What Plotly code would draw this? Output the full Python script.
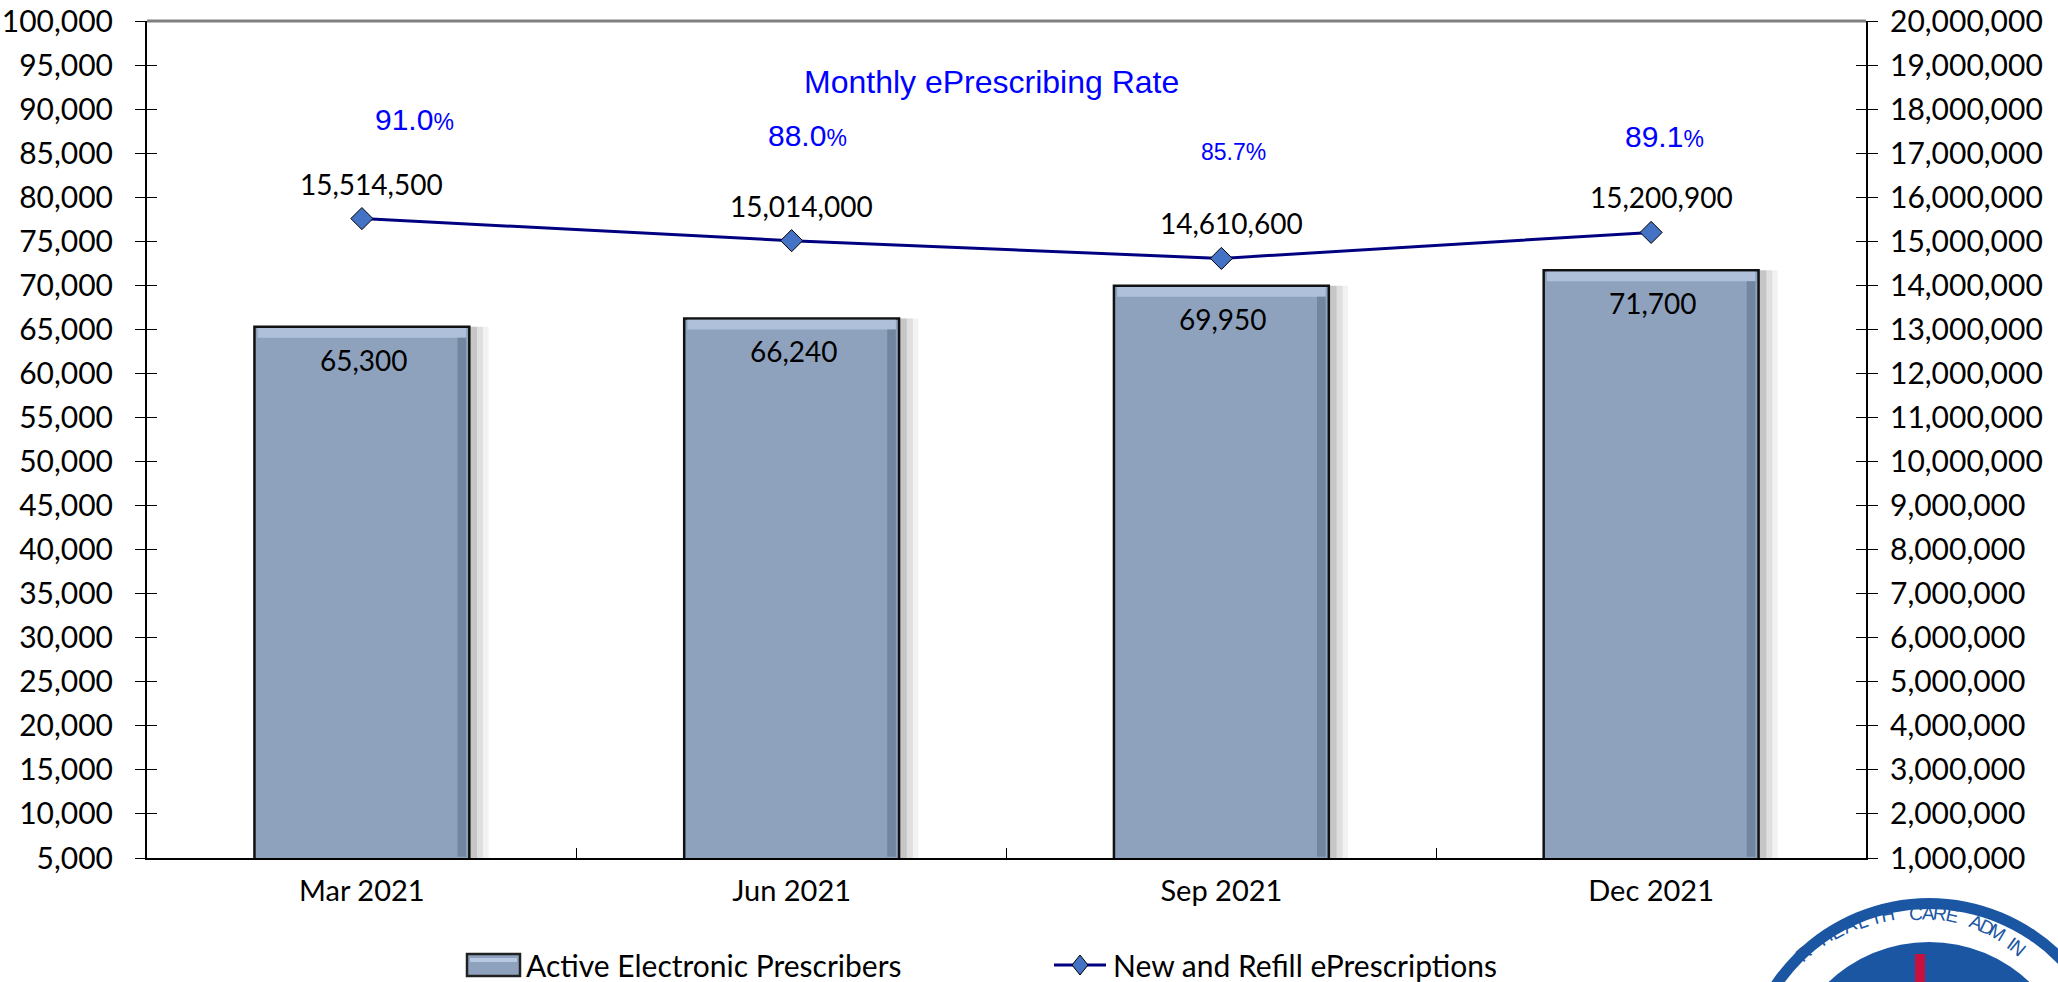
import math
import plotly.graph_objects as go

categories = ["Mar 2021", "Jun 2021", "Sep 2021", "Dec 2021"]
prescribers = [65300, 66240, 69950, 71700]
erx = [15514500, 15014000, 14610600, 15200900]
rate_main = ["91.0", "88.0", "85.7", "89.1"]
rate_small = [False, False, True, False]
rate_level = [17770000, 17410000, 17020000, 17380000]
left_ticks = list(range(5000, 100001, 5000))
right_ticks = list(range(1000000, 20000001, 1000000))
series_names = ["Active Electronic Prescribers", "New and Refill ePrescriptions"]
logo_text = "FOR HEALTH CARE ADMINISTRATION"

FONT = "Lato"
AFONT = "Liberation Sans"
W, H = 2058, 982
L, R, T, B = 147, 192, 21, 124
PW, PH = W - L - R, H - T - B

def px2paper(px, py):
    return (px - L) / PW, (H - B - py) / PH

fig = go.Figure()

# soft shadow behind bars
for off, alpha in [(-0.205, 0.05), (-0.218, 0.08), (-0.232, 0.11)]:
    fig.add_trace(go.Bar(
        x=categories, y=prescribers, showlegend=False, hoverinfo="skip",
        marker=dict(color=f"rgba(0,0,0,{alpha})", line=dict(width=0)),
        width=0.5, offset=off, yaxis="y",
    ))
fig.add_trace(go.Bar(
    x=categories, y=prescribers, name=series_names[0], showlegend=False,
    marker=dict(color="#8EA2BE", line=dict(color="#111111", width=2.5)),
    width=0.5, offset=-0.25, yaxis="y",
))
# bevel highlights (top light band, right dark band)
fig.add_trace(go.Bar(
    x=categories, y=[1100] * len(prescribers), base=[v - 1250 for v in prescribers],
    showlegend=False, hoverinfo="skip",
    marker=dict(color="#AEC0DA", line=dict(width=0)), width=0.485, offset=-0.2425, yaxis="y",
))
fig.add_trace(go.Bar(
    x=categories, y=[v - 5000 - 1400 for v in prescribers], base=[5150] * len(prescribers),
    showlegend=False, hoverinfo="skip",
    marker=dict(color="#72879F", line=dict(width=0)), width=0.02, offset=0.2225, yaxis="y",
))
fig.add_trace(go.Scatter(
    x=categories, y=erx, name=series_names[1], yaxis="y2", showlegend=False,
    mode="lines+markers",
    line=dict(color="#000080", width=3),
    marker=dict(symbol="diamond", size=17, color="#4472C4", line=dict(color="#000000", width=1)),
))
# dummy traces for inner-tick overlay axes
fig.add_trace(go.Scatter(x=[categories[0]], y=[None], yaxis="y3", showlegend=False, hoverinfo="skip"))
fig.add_trace(go.Scatter(x=[categories[0]], y=[None], yaxis="y4", showlegend=False, hoverinfo="skip"))

annos = []
# bar value labels
for c, v in zip(categories, prescribers):
    annos.append(dict(x=c, y=v, xref="x", yref="y", text=f"{v:,}", showarrow=False,
                      yshift=-33, xshift=2, font=dict(family=FONT, size=28, color="#000000")))
# line value labels
for c, v in zip(categories, erx):
    annos.append(dict(x=c, y=v, xref="x", yref="y2", text=f"{v:,}", showarrow=False,
                      yshift=35, xshift=10, font=dict(family=FONT, size=28, color="#000000")))
# percentage labels
pct_xshift = [53, 16, 12, 13]
for c, main, small, lvl, xs in zip(categories, rate_main, rate_small, rate_level, pct_xshift):
    if small:
        txt = f"{main}%"
        size = 23
    else:
        txt = f"{main}<span style='font-size:23px'>%</span>"
        size = 30
    annos.append(dict(x=c, y=lvl, xref="x", yref="y2", text=txt, showarrow=False,
                      xshift=xs, font=dict(family=AFONT, size=size, color="#0000FF")))
tx, ty = px2paper(991, 62)
annos.append(dict(x=tx, y=ty, xref="paper", yref="paper", text="Monthly ePrescribing Rate",
                  showarrow=False, font=dict(family=AFONT, size=32, color="#0000FF")))

# manual legend
lx, ly = px2paper(524, 965)
annos.append(dict(x=lx, y=ly, xref="paper", yref="paper", xanchor="left", yanchor="middle",
                  text=series_names[0], showarrow=False, font=dict(family=FONT, size=30, color="#000000")))
lx2, _ = px2paper(1111, 965)
annos.append(dict(x=lx2, y=ly, xref="paper", yref="paper", xanchor="left", yanchor="middle",
                  text=series_names[1], showarrow=False, font=dict(family=FONT, size=30, color="#000000")))

shapes = [dict(type="line", xref="paper", yref="paper", x0=0, x1=1, y0=1, y1=1,
               line=dict(color="#808080", width=3))]
# legend bar icon
a0, b0 = px2paper(467, 976)
a1, b1 = px2paper(520, 954)
shapes.append(dict(type="rect", xref="paper", yref="paper", x0=a0, y0=b0, x1=a1, y1=b1,
                   fillcolor="#8EA2BE", line=dict(color="#222222", width=2.5)))
a0, b0 = px2paper(470, 958)
a1, b1 = px2paper(517, 962)
shapes.append(dict(type="rect", xref="paper", yref="paper", x0=a0, y0=b0, x1=a1, y1=b1,
                   fillcolor="#B8C8E0", line=dict(width=0)))
# legend line icon
a0, b0 = px2paper(1054, 965)
a1, _ = px2paper(1106, 965)
shapes.append(dict(type="line", xref="paper", yref="paper", x0=a0, y0=b0, x1=a1, y1=b0,
                   line=dict(color="#000080", width=3)))
dcx, dcy = 1080, 965
for_pts = [(dcx, dcy - 10), (dcx + 8, dcy), (dcx, dcy + 10), (dcx - 8, dcy)]
path = "M " + " L ".join(f"{px2paper(px, py)[0]},{px2paper(px, py)[1]}" for px, py in for_pts) + " Z"
shapes.append(dict(type="path", xref="paper", yref="paper", path=path,
                   fillcolor="#4472C4", line=dict(color="#000000", width=1)))

# partial logo at bottom right (decorative)
cx, cy = 1929, 1088
for r, col in [(190, "#1B56A2"), (179, "white"), (146, "#1B56A2")]:
    x0, y0 = px2paper(cx - r, cy + r)
    x1, y1 = px2paper(cx + r, cy - r)
    shapes.append(dict(type="circle", xref="paper", yref="paper", x0=x0, y0=y0, x1=x1, y1=y1,
                       fillcolor=col, line=dict(width=0), layer="above"))
a0, b0 = px2paper(1915, 990)
a1, b1 = px2paper(1925, 954)
shapes.append(dict(type="rect", xref="paper", yref="paper", x0=a0, y0=b0, x1=a1, y1=b1,
                   fillcolor="#C8103E", line=dict(width=0), layer="above"))
# curved logo text
rr = 162
start, step = -52.0, 4.6
for i, ch in enumerate(logo_text):
    if ch == " ":
        continue
    ang = start + i * step
    px = cx + rr * math.sin(math.radians(ang))
    py = cy - rr * math.cos(math.radians(ang))
    if py > H - 12 or px > W - 12:
        continue
    ax, ay = px2paper(px, py)
    annos.append(dict(x=ax, y=ay, xref="paper", yref="paper", text=ch, showarrow=False,
                      textangle=ang, font=dict(family="Liberation Sans", size=19, color="#1B56A2")))

fig.update_layout(
    width=W, height=H,
    margin=dict(l=L, r=R, t=T, b=B, autoexpand=False),
    paper_bgcolor="white", plot_bgcolor="white",
    font=dict(family=FONT, size=28, color="#000000"),
    barmode="overlay",
    showlegend=False,
    xaxis=dict(type="category", showline=True, linecolor="#000000", linewidth=2,
               ticks="inside", tickson="boundaries", ticklen=10, tickcolor="#000000",
               showgrid=False, tickfont=dict(family=FONT, size=29), ticklabelstandoff=6,
               automargin=False),
    yaxis=dict(range=[5000, 100000], tickvals=left_ticks,
               ticktext=[f"{v:,}" for v in left_ticks],
               showline=True, linecolor="#000000", linewidth=2, ticks="outside", ticklen=10,
               tickcolor="#000000", showgrid=False, zeroline=False, automargin=False,
               ticklabelstandoff=16, tickfont=dict(family=FONT, size=30)),
    yaxis2=dict(range=[1000000, 20000000], tickvals=right_ticks,
                ticktext=[f"{v:,}" for v in right_ticks],
                overlaying="y", side="right", showline=True, linecolor="#000000", linewidth=2,
                ticks="outside", ticklen=10, tickcolor="#000000", showgrid=False, zeroline=False,
                automargin=False, ticklabelstandoff=6, tickfont=dict(family=FONT, size=30)),
    yaxis3=dict(range=[5000, 100000], tickvals=left_ticks, overlaying="y", side="left",
                ticks="inside", ticklen=10, tickcolor="#000000", showticklabels=False,
                showgrid=False, zeroline=False, showline=False, automargin=False),
    yaxis4=dict(range=[1000000, 20000000], tickvals=right_ticks, overlaying="y", side="right",
                ticks="inside", ticklen=10, tickcolor="#000000", showticklabels=False,
                showgrid=False, zeroline=False, showline=False, automargin=False),
    annotations=annos,
    shapes=shapes,
)

fig.write_html(
    "out.html",
    config={"displayModeBar": False},
    post_script="document.body.style.margin='0px';document.body.style.padding='0px';"
                "document.body.style.overflow='hidden';",
)
